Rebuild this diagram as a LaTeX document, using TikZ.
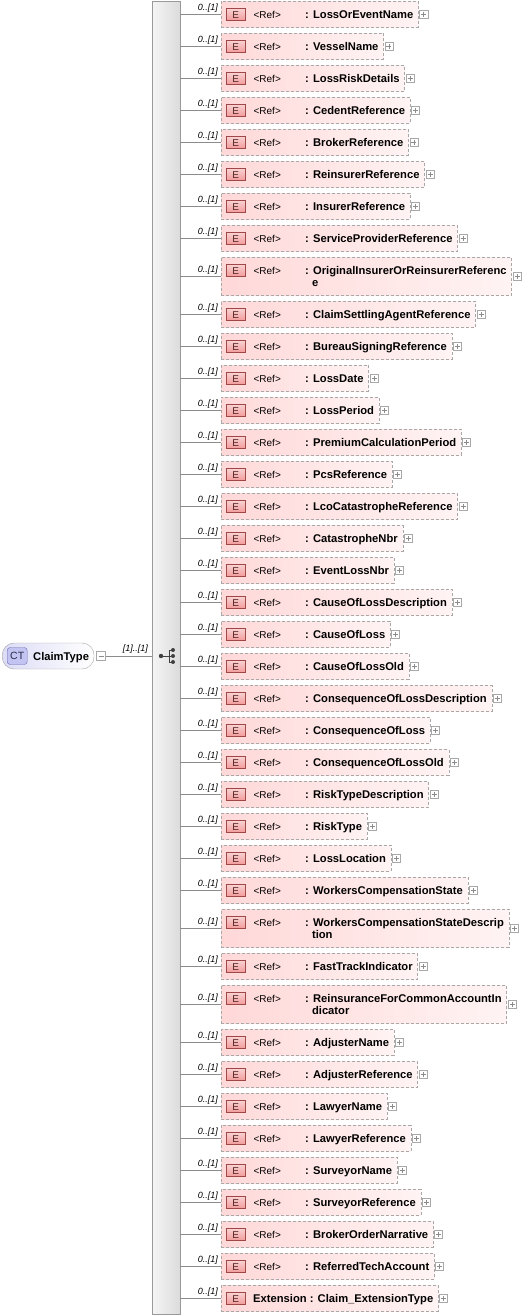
\documentclass[tikz,border=0pt]{standalone}
\usepackage{fontspec}
\setmainfont{Liberation Sans}
\usetikzlibrary{positioning}

\definecolor{linegray}{HTML}{8C8C8C}
\definecolor{boxgray}{HTML}{A8A8A8}
\definecolor{pinkfill}{HTML}{FFD8D8}
\definecolor{badgefill}{HTML}{F29C9C}
\definecolor{badgedraw}{HTML}{A04848}
\definecolor{ctfill}{HTML}{DCDCF6}
\definecolor{ctbadge}{HTML}{C4C4F2}
\definecolor{ctdraw}{HTML}{6A6AAE}

\newcommand{\refgap}{\hspace*{79pt}}

\begin{document}
\begin{tikzpicture}[
    x=1pt, y=-1pt,
    node distance=6pt,
    elembase/.style={rectangle, draw=boxgray, dash pattern=on 3pt off 2pt, left color=pinkfill, right color=pinkfill!30, anchor=north west, inner xsep=5pt, inner ysep=3pt, align=left, font=\fontsize{11.2pt}{12pt}\selectfont\bfseries},
    elem/.style={elembase, minimum height=26pt, text height=8pt, text depth=0pt},
    elemtwo/.style={elembase, minimum height=38pt},
    elem below/.style={below=5.6pt of #1.south west, anchor=north west},
    badge/.style={rectangle, draw=badgedraw, top color=badgefill!45, bottom color=badgefill, minimum width=19pt, inner xsep=0pt, inner ysep=2pt, text height=8pt, text depth=0pt, font=\fontsize{10pt}{12pt}\selectfont, text=badgedraw!50!black},
    reftxt/.style={inner sep=0pt, font=\fontsize{10pt}{12pt}\selectfont},
    mult/.style={inner sep=0pt, font=\fontsize{9pt}{10pt}\selectfont\itshape},
    conn/.style={draw=linegray, line width=0.8pt},
    plusbox/.style={rectangle, draw=boxgray, fill=white, minimum size=8pt, inner sep=0pt, line width=0.6pt,
        path picture={\draw[linegray, line width=0.6pt] ([xshift=-2.5pt]path picture bounding box.center) -- ([xshift=2.5pt]path picture bounding box.center) ([yshift=-2.5pt]path picture bounding box.center) -- ([yshift=2.5pt]path picture bounding box.center);}},
    minusbox/.style={rectangle, draw=boxgray, fill=white, minimum size=9pt, inner sep=0pt, line width=0.6pt,
        path picture={\draw[linegray, line width=0.6pt] ([xshift=-2.5pt]path picture bounding box.center) -- ([xshift=2.5pt]path picture bounding box.center);}},
    seqbar/.style={rectangle, draw=black!40, left color=black!4, right color=black!14, minimum width=28pt, minimum height=1313pt, inner sep=0pt},
    ctnode/.style={rectangle, rounded corners=12pt, draw=black!35, left color=ctfill, right color=white, minimum height=26pt, inner xsep=5pt, text height=8pt, text depth=0pt, font=\fontsize{11.2pt}{12pt}\selectfont\bfseries},
    ctbadge/.style={rectangle, rounded corners=3pt, draw=ctdraw, fill=ctbadge, minimum width=20pt, minimum height=17pt, inner sep=0pt, font=\fontsize{10.5pt}{12pt}\selectfont, text=ctdraw!40!black}
]

\useasboundingbox (0,0) rectangle (524,1316);

% Sequence compositor
\node[seqbar, anchor=north west] (seq) at (152,1) {};

% Complex type
\node[ctnode, anchor=west] (claim) at (2,656) {\hspace*{26pt}ClaimType};
\node[ctbadge, right=5pt of claim.west] (ct) {CT};
\node[minusbox, right=2pt of claim.east] (cminus) {};
\coordinate (seqin) at (seq.west |- claim.east);
\draw[conn] (cminus) -- (seqin);
\node[mult, above left=2pt and 4pt of seqin] {[1]..[1]};

% Sequence symbol
\coordinate (sym) at (169,656);
\draw[black!75, line width=0.8pt] ([xshift=-8pt]sym) -- (sym)
    ([yshift=6pt]sym) -- ([yshift=-6pt]sym)
    ([yshift=6pt]sym) -- ([xshift=4pt,yshift=6pt]sym)
    (sym) -- ([xshift=4pt]sym)
    ([yshift=-6pt]sym) -- ([xshift=4pt,yshift=-6pt]sym);
\fill[black!75] ([xshift=-8pt]sym) circle (2.2pt)
    ([xshift=4pt,yshift=6pt]sym) circle (2pt)
    ([xshift=4pt]sym) circle (2pt)
    ([xshift=4pt,yshift=-6pt]sym) circle (2pt);

% Elements
\node[elem] (e1) at (221,1) {\refgap: LossOrEventName};
\node[elem, elem below=e1] (e2) {\refgap: VesselName};
\node[elem, elem below=e2] (e3) {\refgap: LossRiskDetails};
\node[elem, elem below=e3] (e4) {\refgap: CedentReference};
\node[elem, elem below=e4] (e5) {\refgap: BrokerReference};
\node[elem, elem below=e5] (e6) {\refgap: ReinsurerReference};
\node[elem, elem below=e6] (e7) {\refgap: InsurerReference};
\node[elem, elem below=e7] (e8) {\refgap: ServiceProviderReference};
\node[elemtwo, elem below=e8] (e9) {\refgap: OriginalInsurerOrReinsurerReferenc\\\refgap\phantom{:\ }e};
\node[elem, elem below=e9] (e10) {\refgap: ClaimSettlingAgentReference};
\node[elem, elem below=e10] (e11) {\refgap: BureauSigningReference};
\node[elem, elem below=e11] (e12) {\refgap: LossDate};
\node[elem, elem below=e12] (e13) {\refgap: LossPeriod};
\node[elem, elem below=e13] (e14) {\refgap: PremiumCalculationPeriod};
\node[elem, elem below=e14] (e15) {\refgap: PcsReference};
\node[elem, elem below=e15] (e16) {\refgap: LcoCatastropheReference};
\node[elem, elem below=e16] (e17) {\refgap: CatastropheNbr};
\node[elem, elem below=e17] (e18) {\refgap: EventLossNbr};
\node[elem, elem below=e18] (e19) {\refgap: CauseOfLossDescription};
\node[elem, elem below=e19] (e20) {\refgap: CauseOfLoss};
\node[elem, elem below=e20] (e21) {\refgap: CauseOfLossOld};
\node[elem, elem below=e21] (e22) {\refgap: ConsequenceOfLossDescription};
\node[elem, elem below=e22] (e23) {\refgap: ConsequenceOfLoss};
\node[elem, elem below=e23] (e24) {\refgap: ConsequenceOfLossOld};
\node[elem, elem below=e24] (e25) {\refgap: RiskTypeDescription};
\node[elem, elem below=e25] (e26) {\refgap: RiskType};
\node[elem, elem below=e26] (e27) {\refgap: LossLocation};
\node[elem, elem below=e27] (e28) {\refgap: WorkersCompensationState};
\node[elemtwo, elem below=e28] (e29) {\refgap: WorkersCompensationStateDescrip\\\refgap\phantom{:\ }tion};
\node[elem, elem below=e29] (e30) {\refgap: FastTrackIndicator};
\node[elemtwo, elem below=e30] (e31) {\refgap: ReinsuranceForCommonAccountIn\\\refgap\phantom{:\ }dicator};
\node[elem, elem below=e31] (e32) {\refgap: AdjusterName};
\node[elem, elem below=e32] (e33) {\refgap: AdjusterReference};
\node[elem, elem below=e33] (e34) {\refgap: LawyerName};
\node[elem, elem below=e34] (e35) {\refgap: LawyerReference};
\node[elem, elem below=e35] (e36) {\refgap: SurveyorName};
\node[elem, elem below=e36] (e37) {\refgap: SurveyorReference};
\node[elem, elem below=e37] (e38) {\refgap: BrokerOrderNarrative};
\node[elem, elem below=e38] (e39) {\refgap: ReferredTechAccount};
\node[elem, elem below=e39] (e40) {\hspace*{27pt}Extension : Claim\_ExtensionType};

% Badges, multiplicities, connectors
\foreach \i in {1,...,40} {
  \node[badge, below right=7pt and 5pt of e\i.north west] (b\i) {E};
  \node[plusbox, right=1pt of e\i.east] (p\i) {};
  \draw[conn] (seq.east |- e\i.west) -- (e\i.west);
  \node[mult, above left=2pt and 3pt of e\i.west] {0..[1]};
}
\foreach \i in {1,...,39}
  \node[reftxt, right=8pt of b\i.base east, anchor=base west] {\textless Ref\textgreater};

\end{tikzpicture}
\end{document}
